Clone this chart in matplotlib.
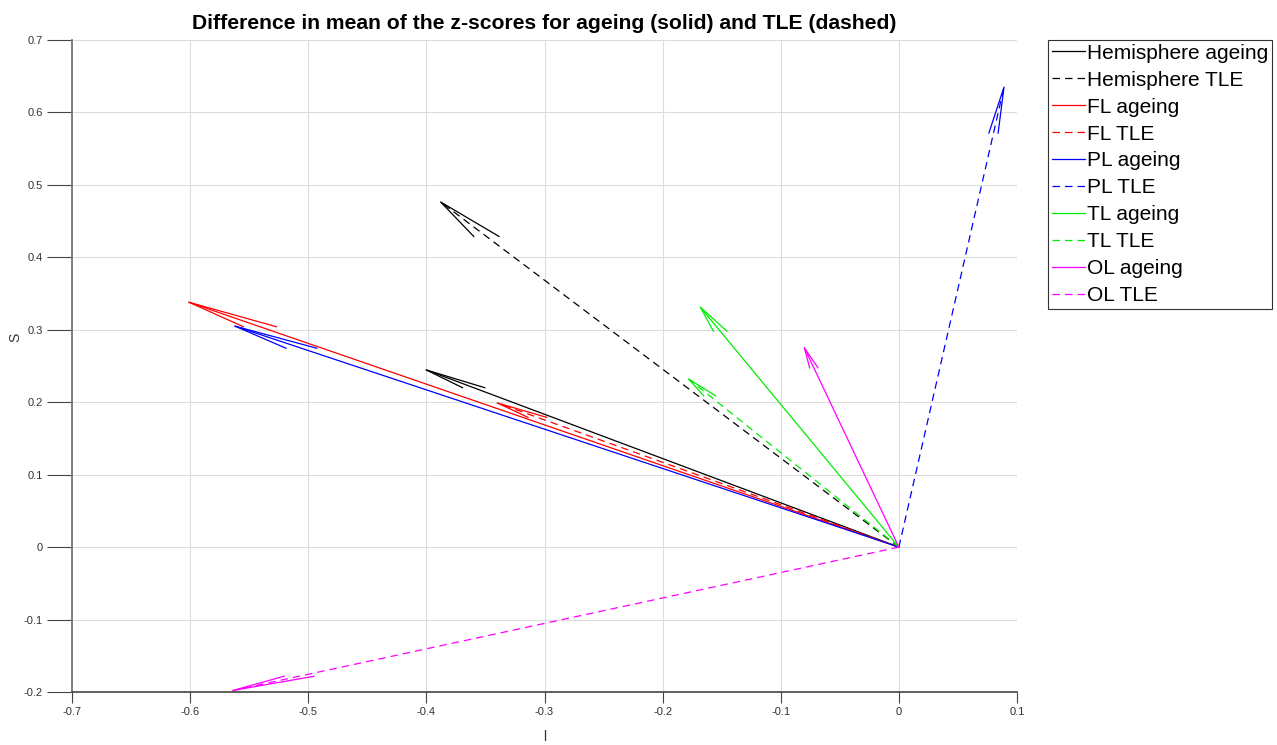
import matplotlib
matplotlib.use("Agg")
from matplotlib import pyplot as plt
from matplotlib.lines import Line2D
import numpy as np

# series names, vector end points (l, S), vectors start at the origin
nomes = ['Hemisphere ageing', 'Hemisphere TLE', 'FL ageing', 'FL TLE',
         'PL ageing', 'PL TLE', 'TL ageing', 'TL TLE', 'OL ageing', 'OL TLE']
l_vals = [-0.400, -0.388, -0.601, -0.340, -0.562, 0.089, -0.168, -0.178, -0.080, -0.564]
s_vals = [0.2445, 0.4765, 0.338, 0.199, 0.305, 0.635, 0.331, 0.232, 0.275, -0.198]

x_ticks = [-0.7, -0.6, -0.5, -0.4, -0.3, -0.2, -0.1, 0, 0.1]
y_ticks = [-0.2, -0.1, 0, 0.1, 0.2, 0.3, 0.4, 0.5, 0.6, 0.7]
x_tick_labels = ['-0.7', '-0.6', '-0.5', '-0.4', '-0.3', '-0.2', '-0.1', '0', '0.1']
y_tick_labels = ['-0.2', '-0.1', '0', '0.1', '0.2', '0.3', '0.4', '0.5', '0.6', '0.7']

cores = ['#000000', '#000000', '#ff0000', '#ff0000', '#0000ff', '#0000ff',
         '#00ee00', '#00ee00', '#ff00ff', '#ff00ff']
estilos = ['-', (0, (6, 4)), '-', (0, (6, 4)), '-', (0, (6, 4)),
           '-', (0, (6, 4)), '-', (0, (6, 4))]

plt.rcParams['font.family'] = ['Liberation Sans', 'DejaVu Sans']

fig = plt.figure(figsize=(12.77, 7.45), dpi=100)
ax = fig.add_axes([72 / 1277, 1 - 692 / 745, (1017 - 72) / 1277, (692 - 40) / 745])
ax.set_xlim(-0.7, 0.1)
ax.set_ylim(-0.2, 0.7)

alfa = 0.1    # head length relative to the arrow
abertura = 0.22  # horizontal spread of the head ends

for i in range(len(nomes)):
    u = l_vals[i]
    v = s_vals[i]
    ax.plot([0, u], [0, v], color=cores[i], linestyle=estilos[i], lw=0.9)
    # arrow head, done in screen pixels
    p0 = ax.transData.transform((0, 0))
    p1 = ax.transData.transform((u, v))
    d = p1 - p0
    comp = np.hypot(d[0], d[1])
    t = d / comp
    h = alfa * comp
    base = p1 - h * t
    dx = abertura * h * min(1.0, 2 * abs(t[0]))
    a = base + np.array([dx, 0])
    b = base - np.array([dx, 0])
    pts = ax.transData.inverted().transform(np.array([a, p1, b]))
    ax.plot(pts[:, 0], pts[:, 1], color=cores[i], linestyle='-', lw=0.9)

ax.set_xticks(x_ticks)
ax.set_yticks(y_ticks)
ax.set_xticklabels(x_tick_labels)
ax.set_yticklabels(y_tick_labels)
ax.grid(True, color='#dddddd', lw=0.8)
ax.set_axisbelow(True)
ax.spines['top'].set_visible(False)
ax.spines['right'].set_visible(False)
ax.spines['left'].set_color('#777777')
ax.spines['bottom'].set_color('#444444')
ax.spines['left'].set_linewidth(1.3)
ax.spines['bottom'].set_linewidth(1.2)
ax.tick_params(axis='y', direction='out', length=18, width=0.8, color='#444444',
               labelsize=8, labelcolor='#333333', pad=3)
ax.tick_params(axis='x', direction='out', length=8, width=0.8, color='#444444',
               labelsize=8, labelcolor='#333333', pad=3)

ax.set_title('Difference in mean of the z-scores for ageing (solid) and TLE (dashed)',
             fontsize=15.2, fontweight='bold', pad=8)
ax.set_xlabel('l', fontsize=10, color='#333333')
ax.set_ylabel('S', fontsize=10, color='#333333')
ax.xaxis.set_label_coords(0.5005, -0.058)
ax.yaxis.set_label_coords((22 - 72) / 945, (692 - 337) / 652)

handles = []
for i in range(len(nomes)):
    handles.append(Line2D([], [], color=cores[i], linestyle=estilos[i], lw=0.9))
leg = fig.legend(handles, nomes, loc='upper left',
                 bbox_to_anchor=(1048 / 1277, 1 - 40 / 745), borderaxespad=0,
                 fontsize=15, handlelength=1.6, handletextpad=0.08,
                 labelspacing=0.38, borderpad=0.18, fancybox=False,
                 edgecolor='#333333', framealpha=1)
leg.get_frame().set_linewidth(0.8)

fig.savefig('out.png', dpi=100)
